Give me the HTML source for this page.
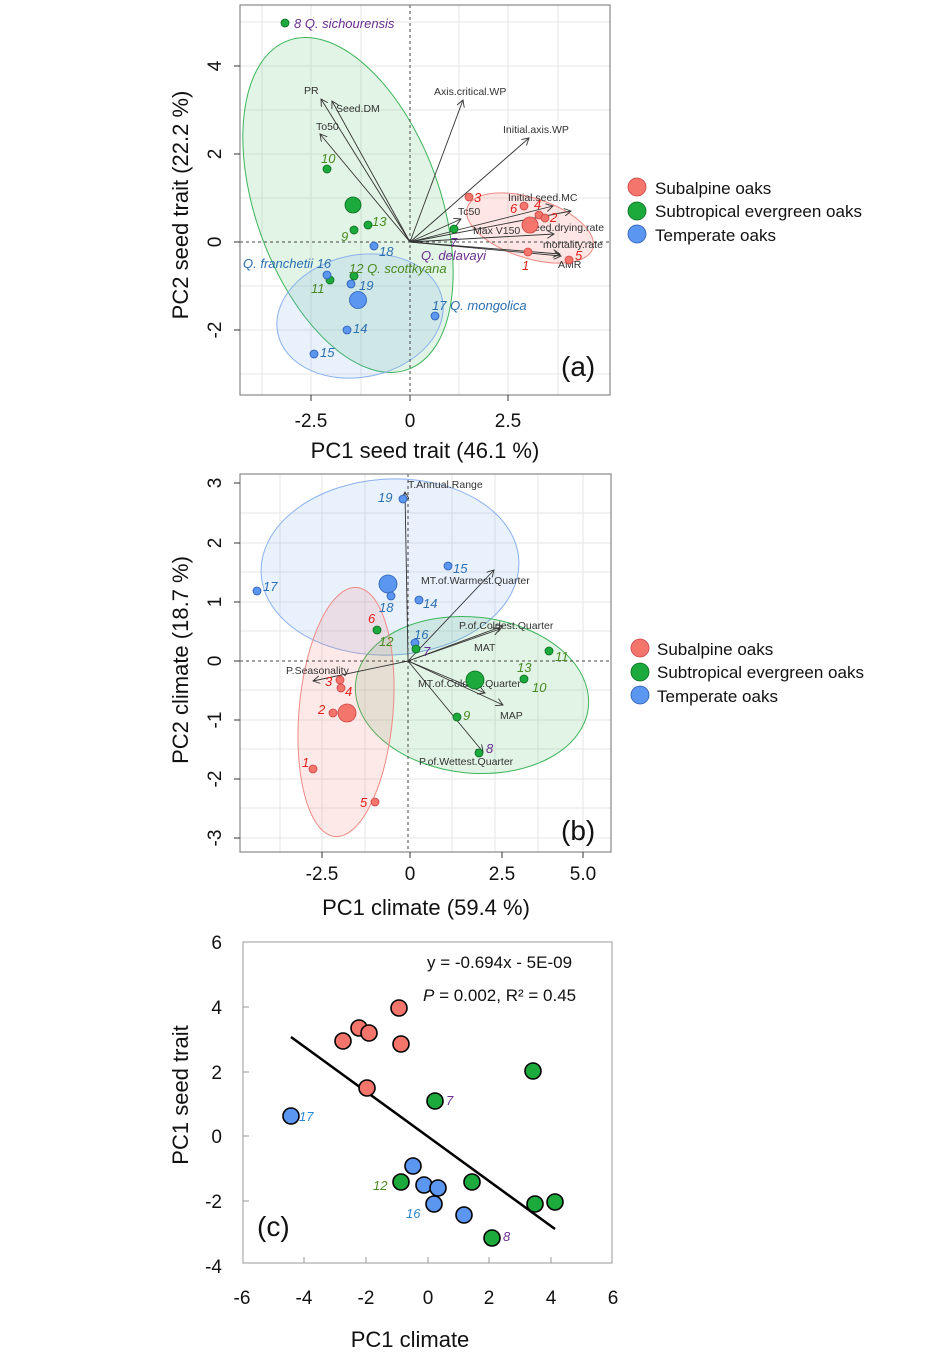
<!DOCTYPE html>
<html><head><meta charset="utf-8"><style>
body{margin:0;background:#fff;}
svg{display:block;font-family:"Liberation Sans",Arial,sans-serif;}
.g{stroke:#e6e6e6;stroke-width:1}
.ar{stroke:#333;stroke-width:0.9;fill:none;marker-end:url(#ah)}
.vl{font-size:10.5px;fill:#333}
.it{font-style:italic;font-size:13px}
.r{fill:#f4756b;stroke:#c44;stroke-width:0.8}
.gr{fill:#1daa3c;stroke:#0a6a20;stroke-width:0.8}
.b{fill:#5b96f0;stroke:#2a5db0;stroke-width:0.8}
.c circle{stroke:#000;stroke-width:1.6}
.tk{font-size:19px;fill:#111}
.tt{font-size:22px;fill:#111}
</style></head><body>
<svg width="945" height="1365" viewBox="0 0 945 1365">
<defs><marker id="ah" markerWidth="8" markerHeight="8" refX="7" refY="4" orient="auto" markerUnits="userSpaceOnUse"><path d="M0,0 L7,4 L0,8" fill="none" stroke="#333" stroke-width="0.9"/></marker></defs>

<!-- Panel a -->
<g>
<rect x="240" y="5" width="370" height="390" fill="#fff"/>
<g class="g">
<line x1="262" y1="5" x2="262" y2="395"/><line x1="311" y1="5" x2="311" y2="395"/><line x1="361" y1="5" x2="361" y2="395"/><line x1="459" y1="5" x2="459" y2="395"/><line x1="508" y1="5" x2="508" y2="395"/><line x1="558" y1="5" x2="558" y2="395"/>
<line x1="240" y1="22" x2="610" y2="22"/><line x1="240" y1="66" x2="610" y2="66"/><line x1="240" y1="110" x2="610" y2="110"/><line x1="240" y1="154" x2="610" y2="154"/><line x1="240" y1="198" x2="610" y2="198"/><line x1="240" y1="286" x2="610" y2="286"/><line x1="240" y1="330" x2="610" y2="330"/><line x1="240" y1="374" x2="610" y2="374"/>
</g>
<ellipse cx="348" cy="205" rx="175" ry="92" transform="rotate(70 348 205)" fill="#1daa3c" fill-opacity="0.13" stroke="#3cb55a" stroke-width="1"/>
<ellipse cx="360" cy="316" rx="84" ry="61" transform="rotate(-12 360 316)" fill="#6da0f0" fill-opacity="0.15" stroke="#8ab0ee" stroke-width="1"/>
<ellipse cx="530" cy="228" rx="66" ry="30" transform="rotate(18 530 228)" fill="#f4756b" fill-opacity="0.18" stroke="#f08a84" stroke-width="1"/>
<line x1="410" y1="5" x2="410" y2="395" stroke="#444" stroke-dasharray="3,3"/>
<line x1="240" y1="242" x2="610" y2="242" stroke="#444" stroke-dasharray="3,3"/>
<line class="ar" x1="410" y1="242" x2="321" y2="99"/>
<line class="ar" x1="410" y1="242" x2="332" y2="101"/>
<line class="ar" x1="410" y1="242" x2="320" y2="134"/>
<line class="ar" x1="410" y1="242" x2="463" y2="100"/>
<line class="ar" x1="410" y1="242" x2="529" y2="138"/>
<line class="ar" x1="410" y1="242" x2="461" y2="219"/>
<line class="ar" x1="410" y1="242" x2="553" y2="206"/>
<line class="ar" x1="410" y1="242" x2="571" y2="211"/>
<line class="ar" x1="410" y1="242" x2="554" y2="234"/>
<line class="ar" x1="410" y1="242" x2="560" y2="254"/>
<line class="ar" x1="410" y1="242" x2="561" y2="256"/>
<text class="vl" x="304" y="94">PR</text>
<text class="vl" x="336" y="112">Seed.DM</text>
<text class="vl" x="316" y="130">To50</text>
<text class="vl" x="434" y="95">Axis.critical.WP</text>
<text class="vl" x="503" y="133">Initial.axis.WP</text>
<text class="vl" x="508" y="201">Initial.seed.MC</text>
<text class="vl" x="458" y="215">Tc50</text>
<text class="vl" x="473" y="234">Max V150</text>
<text class="vl" x="527" y="231">Seed.drying.rate</text>
<text class="vl" x="543" y="248">mortality.rate</text>
<text class="vl" x="558" y="268">AMR</text>
<circle class="gr" cx="285" cy="23" r="4"/><circle class="gr" cx="327" cy="169" r="4"/><circle class="gr" cx="353" cy="205" r="8"/><circle class="gr" cx="368" cy="225" r="4"/><circle class="gr" cx="354" cy="230" r="4"/><circle class="gr" cx="330" cy="280" r="4"/><circle class="gr" cx="354" cy="276" r="4"/><circle class="gr" cx="454" cy="229" r="4"/>
<circle class="b" cx="374" cy="246" r="4"/><circle class="b" cx="327" cy="275" r="4"/><circle class="b" cx="351" cy="284" r="4"/><circle class="b" cx="358" cy="300" r="8.5"/><circle class="b" cx="435" cy="316" r="4"/><circle class="b" cx="347" cy="330" r="4"/><circle class="b" cx="314" cy="354" r="4"/>
<circle class="r" cx="469" cy="197" r="4"/><circle class="r" cx="524" cy="206" r="4"/><circle class="r" cx="539" cy="215" r="4"/><circle class="r" cx="545" cy="218" r="4"/><circle class="r" cx="530" cy="225" r="8"/><circle class="r" cx="528" cy="252" r="4"/><circle class="r" cx="569" cy="260" r="4"/>
<g class="it">
<text x="294" y="28" fill="#6a2d91">8 Q. sichourensis</text>
<text x="321" y="163" fill="#4a8a20">10</text>
<text x="372" y="226" fill="#4a8a20">13</text>
<text x="341" y="241" fill="#4a8a20">9</text>
<text x="379" y="256" fill="#2a6fb0">18</text>
<text x="243" y="268" fill="#2a6fb0">Q. franchetii 16</text>
<text x="349" y="273" fill="#4a8a20">12 Q. scottkyana</text>
<text x="311" y="293" fill="#4a8a20">11</text>
<text x="359" y="290" fill="#2a6fb0">19</text>
<text x="432" y="310" fill="#2a6fb0">17  Q. mongolica</text>
<text x="353" y="333" fill="#2a6fb0">14</text>
<text x="320" y="357" fill="#2a6fb0">15</text>
<text x="450" y="247" fill="#6a2d91">7</text>
<text x="421" y="260" fill="#6a2d91">Q. delavayi</text>
<text x="474" y="202" fill="#e0201a">3</text>
<text x="510" y="213" fill="#e0201a">6</text>
<text x="534" y="209" fill="#e0201a">4</text>
<text x="550" y="222" fill="#e0201a">2</text>
<text x="522" y="270" fill="#e0201a">1</text>
<text x="575" y="260" fill="#e0201a">5</text>
</g>
<text x="561" y="376" font-size="28" fill="#111">(a)</text>
<rect x="240" y="5" width="370" height="390" fill="none" stroke="#888" stroke-width="1.2"/>
<g stroke="#333"><line x1="311" y1="395" x2="311" y2="401"/><line x1="410" y1="395" x2="410" y2="401"/><line x1="508" y1="395" x2="508" y2="401"/>
<line x1="234" y1="66" x2="240" y2="66"/><line x1="234" y1="154" x2="240" y2="154"/><line x1="234" y1="242" x2="240" y2="242"/><line x1="234" y1="330" x2="240" y2="330"/></g>
<g class="tk" text-anchor="middle"><text x="311" y="427">-2.5</text><text x="410" y="427">0</text><text x="508" y="427">2.5</text>
<text transform="translate(221 66) rotate(-90)">4</text><text transform="translate(221 154) rotate(-90)">2</text><text transform="translate(221 242) rotate(-90)">0</text><text transform="translate(221 330) rotate(-90)">-2</text></g>
<text class="tt" text-anchor="middle" x="425" y="458">PC1 seed trait (46.1 %)</text>
<text class="tt" text-anchor="middle" transform="translate(188 205) rotate(-90)">PC2 seed trait (22.2 %)</text>
</g>
<g font-size="17" fill="#111">
<circle class="r" cx="637" cy="187" r="9"/><text x="655" y="194">Subalpine oaks</text>
<circle class="gr" cx="637" cy="211" r="9"/><text x="655" y="217">Subtropical evergreen oaks</text>
<circle class="b" cx="637" cy="234" r="9"/><text x="655" y="241">Temperate oaks</text>
</g>

<!-- Panel b -->
<g>
<g class="g">
<line x1="280" y1="474" x2="280" y2="852"/><line x1="322" y1="474" x2="322" y2="852"/><line x1="365" y1="474" x2="365" y2="852"/><line x1="452" y1="474" x2="452" y2="852"/><line x1="495" y1="474" x2="495" y2="852"/><line x1="538" y1="474" x2="538" y2="852"/><line x1="583" y1="474" x2="583" y2="852"/>
<line x1="240" y1="513" x2="611" y2="513"/><line x1="240" y1="543" x2="611" y2="543"/><line x1="240" y1="572" x2="611" y2="572"/><line x1="240" y1="602" x2="611" y2="602"/><line x1="240" y1="631" x2="611" y2="631"/><line x1="240" y1="690" x2="611" y2="690"/><line x1="240" y1="720" x2="611" y2="720"/><line x1="240" y1="749" x2="611" y2="749"/><line x1="240" y1="779" x2="611" y2="779"/><line x1="240" y1="808" x2="611" y2="808"/><line x1="240" y1="838" x2="611" y2="838"/>
</g>
<ellipse cx="390" cy="567" rx="129" ry="88" transform="rotate(-3 390 567)" fill="#6da0f0" fill-opacity="0.15" stroke="#8ab0ee" stroke-width="1"/>
<ellipse cx="472" cy="695" rx="117" ry="78" transform="rotate(6 472 695)" fill="#1daa3c" fill-opacity="0.13" stroke="#3cb55a" stroke-width="1"/>
<ellipse cx="346" cy="712" rx="47" ry="125" transform="rotate(5 346 712)" fill="#f4756b" fill-opacity="0.16" stroke="#f08a84" stroke-width="1"/>
<line x1="408" y1="474" x2="408" y2="852" stroke="#444" stroke-dasharray="3,3"/>
<line x1="240" y1="661" x2="611" y2="661" stroke="#444" stroke-dasharray="3,3"/>
<line class="ar" x1="408" y1="661" x2="405" y2="492"/>
<line class="ar" x1="408" y1="661" x2="494" y2="570"/>
<line class="ar" x1="408" y1="661" x2="503" y2="626"/>
<line class="ar" x1="408" y1="661" x2="500" y2="629"/>
<line class="ar" x1="408" y1="661" x2="485" y2="693"/>
<line class="ar" x1="408" y1="661" x2="503" y2="705"/>
<line class="ar" x1="408" y1="661" x2="483" y2="752"/>
<line class="ar" x1="408" y1="661" x2="313" y2="681"/>
<text class="vl" x="408" y="488">T.Annual.Range</text>
<text class="vl" x="421" y="584">MT.of.Warmest.Quarter</text>
<text class="vl" x="459" y="629">P.of.Coldest.Quarter</text>
<text class="vl" x="474" y="651">MAT</text>
<text class="vl" x="286" y="674">P.Seasonality</text>
<text class="vl" x="418" y="687">MT.of.Coldest.Quarter</text>
<text class="vl" x="500" y="719">MAP</text>
<text class="vl" x="419" y="765">P.of.Wettest.Quarter</text>
<circle class="b" cx="403" cy="499" r="4"/><circle class="b" cx="448" cy="566" r="4"/><circle class="b" cx="388" cy="584" r="9"/><circle class="b" cx="391" cy="596" r="4"/><circle class="b" cx="257" cy="591" r="4"/><circle class="b" cx="419" cy="600" r="4"/><circle class="b" cx="415" cy="643" r="4"/>
<circle class="gr" cx="416" cy="649" r="4"/><circle class="gr" cx="377" cy="630" r="4"/><circle class="gr" cx="549" cy="651" r="4"/><circle class="gr" cx="524" cy="679" r="4"/><circle class="gr" cx="475" cy="680" r="9"/><circle class="gr" cx="457" cy="717" r="4"/><circle class="gr" cx="479" cy="753" r="4"/>
<circle class="r" cx="340" cy="680" r="4"/><circle class="r" cx="341" cy="688" r="4"/><circle class="r" cx="333" cy="713" r="4"/><circle class="r" cx="347" cy="713" r="9"/><circle class="r" cx="313" cy="769" r="4"/><circle class="r" cx="375" cy="802" r="4"/>
<g class="it">
<text x="378" y="502" fill="#2a6fb0">19</text>
<text x="453" y="573" fill="#2a6fb0">15</text>
<text x="263" y="591" fill="#2a6fb0">17</text>
<text x="379" y="612" fill="#2a6fb0">18</text>
<text x="423" y="608" fill="#2a6fb0">14</text>
<text x="414" y="639" fill="#2a6fb0">16</text>
<text x="423" y="656" fill="#6a2d91">7</text>
<text x="368" y="623" fill="#e0201a">6</text>
<text x="379" y="646" fill="#4a8a20">12</text>
<text x="555" y="661" fill="#4a8a20">11</text>
<text x="517" y="672" fill="#4a8a20">13</text>
<text x="532" y="692" fill="#4a8a20">10</text>
<text x="463" y="720" fill="#4a8a20">9</text>
<text x="486" y="753" fill="#6a2d91">8</text>
<text x="325" y="686" fill="#e0201a">3</text>
<text x="345" y="696" fill="#e0201a">4</text>
<text x="318" y="714" fill="#e0201a">2</text>
<text x="302" y="767" fill="#e0201a">1</text>
<text x="360" y="807" fill="#e0201a">5</text>
</g>
<text x="561" y="840" font-size="28" fill="#111">(b)</text>
<rect x="240" y="474" width="371" height="378" fill="none" stroke="#888" stroke-width="1.2"/>
<g stroke="#333"><line x1="322" y1="852" x2="322" y2="858"/><line x1="410" y1="852" x2="410" y2="858"/><line x1="502" y1="852" x2="502" y2="858"/><line x1="583" y1="852" x2="583" y2="858"/>
<line x1="234" y1="483" x2="240" y2="483"/><line x1="234" y1="543" x2="240" y2="543"/><line x1="234" y1="602" x2="240" y2="602"/><line x1="234" y1="661" x2="240" y2="661"/><line x1="234" y1="720" x2="240" y2="720"/><line x1="234" y1="779" x2="240" y2="779"/><line x1="234" y1="838" x2="240" y2="838"/></g>
<g class="tk" text-anchor="middle"><text x="322" y="880">-2.5</text><text x="410" y="880">0</text><text x="502" y="880">2.5</text><text x="583" y="880">5.0</text>
<text transform="translate(221 483) rotate(-90)">3</text><text transform="translate(221 543) rotate(-90)">2</text><text transform="translate(221 602) rotate(-90)">1</text><text transform="translate(221 661) rotate(-90)">0</text><text transform="translate(221 720) rotate(-90)">-1</text><text transform="translate(221 779) rotate(-90)">-2</text><text transform="translate(221 838) rotate(-90)">-3</text></g>
<text class="tt" text-anchor="middle" x="426" y="915">PC1 climate (59.4 %)</text>
<text class="tt" text-anchor="middle" transform="translate(188 660) rotate(-90)">PC2 climate (18.7 %)</text>
</g>
<g font-size="17" fill="#111">
<circle class="r" cx="640" cy="648" r="9"/><text x="657" y="655">Subalpine oaks</text>
<circle class="gr" cx="640" cy="672" r="9"/><text x="657" y="678">Subtropical evergreen oaks</text>
<circle class="b" cx="640" cy="695" r="9"/><text x="657" y="702">Temperate oaks</text>
</g>

<!-- Panel c -->
<g>
<rect x="243" y="942" width="369" height="321" fill="none" stroke="#999" stroke-width="1"/>
<g stroke="#999"><line x1="304" y1="1263" x2="304" y2="1257"/><line x1="366" y1="1263" x2="366" y2="1257"/><line x1="428" y1="1263" x2="428" y2="1257"/><line x1="489" y1="1263" x2="489" y2="1257"/><line x1="551" y1="1263" x2="551" y2="1257"/>
<line x1="243" y1="1007" x2="249" y2="1007"/><line x1="243" y1="1072" x2="249" y2="1072"/><line x1="243" y1="1136" x2="249" y2="1136"/><line x1="243" y1="1201" x2="249" y2="1201"/></g>
<line x1="291" y1="1037" x2="555" y2="1229" stroke="#000" stroke-width="2.5"/>
<g class="c">
<circle class="r" cx="343" cy="1041" r="8"/><circle class="r" cx="359" cy="1028" r="8"/><circle class="r" cx="369" cy="1033" r="8"/><circle class="r" cx="399" cy="1008" r="8"/><circle class="r" cx="401" cy="1044" r="8"/><circle class="r" cx="367" cy="1088" r="8"/>
<circle class="gr" cx="435" cy="1101" r="8"/><circle class="gr" cx="533" cy="1071" r="8"/><circle class="gr" cx="535" cy="1204" r="8"/><circle class="gr" cx="555" cy="1202" r="8"/><circle class="gr" cx="472" cy="1182" r="8"/><circle class="gr" cx="401" cy="1182" r="8"/><circle class="gr" cx="492" cy="1238" r="8"/>
<circle class="b" cx="291" cy="1116" r="8"/><circle class="b" cx="413" cy="1166" r="8"/><circle class="b" cx="424" cy="1185" r="8"/><circle class="b" cx="438" cy="1188" r="8"/><circle class="b" cx="434" cy="1204" r="8"/><circle class="b" cx="464" cy="1215" r="8"/>
</g>
<g class="it">
<text x="299" y="1121" fill="#2a8ad0">17</text>
<text x="446" y="1105" fill="#6a2d91">7</text>
<text x="373" y="1190" fill="#4a8a20">12</text>
<text x="406" y="1218" fill="#2a8ad0">16</text>
<text x="503" y="1241" fill="#6a2d91">8</text>
</g>
<text x="427" y="968" font-size="17" fill="#111">y = -0.694x - 5E-09</text>
<text x="423" y="1001" font-size="17" fill="#111"><tspan font-style="italic">P</tspan> = 0.002, R² = 0.45</text>
<text x="257" y="1236" font-size="28" fill="#111">(c)</text>
<g class="tk" text-anchor="middle"><text x="242" y="1304">-6</text><text x="304" y="1304">-4</text><text x="366" y="1304">-2</text><text x="428" y="1304">0</text><text x="489" y="1304">2</text><text x="551" y="1304">4</text><text x="613" y="1304">6</text></g>
<g class="tk" text-anchor="end"><text x="222" y="949">6</text><text x="222" y="1014">4</text><text x="222" y="1079">2</text><text x="222" y="1143">0</text><text x="222" y="1208">-2</text><text x="222" y="1273">-4</text></g>
<text class="tt" text-anchor="middle" x="410" y="1347">PC1 climate</text>
<text class="tt" text-anchor="middle" transform="translate(188 1095) rotate(-90)">PC1 seed trait</text>
</g>
</svg>
</body></html>
